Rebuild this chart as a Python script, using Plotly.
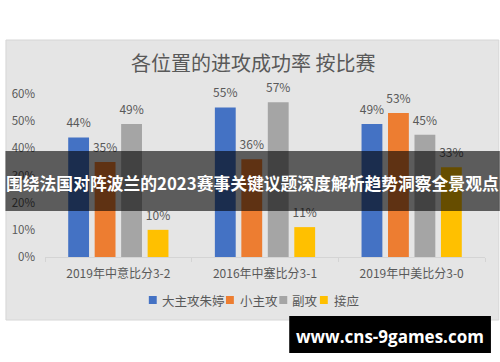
import plotly.graph_objects as go

categories = ["2019年中意比分3-2", "2016年中塞比分3-1", "2019年中美比分3-0"]
series_names = ["大主攻朱婷", "小主攻", "副攻", "接应"]
series_values = {
    "大主攻朱婷": [44, 55, 49],
    "小主攻": [35, 36, 53],
    "副攻": [49, 57, 45],
    "接应": [10, 11, 33],
}
colors = ["#4472C4", "#ED7D31", "#A5A5A5", "#FFC000"]
tick_vals = [0, 10, 20, 30, 40, 50, 60]
tick_text = ["0%", "10%", "20%", "30%", "40%", "50%", "60%"]

title_text = "各位置的进攻成功率 按比赛"
banner_text = "围绕法国对阵波兰的2023赛事关键议题深度解析趋势洞察全景观点"
watermark_text = "www.cns-9games.com"

# layout (pixel positions in the 500x362 window)
W, H = 500, 362
L, R, T, B = 40, 15, 94, 105
PW, PH = W - L - R, H - T - B
legend_square_x = [145, 223, 277, 318]
legend_text_x = [157, 236, 289, 331]
LEGEND_Y = 300
GAP = 0.278


def px(x):
    return (x - L) / PW


def py(y):
    return (H - B - y) / PH


FONT = "Noto Sans CJK SC, Noto Sans, sans-serif"
GRAY = "#595959"

fig = go.Figure()
for name, col in zip(series_names, colors):
    vals = series_values[name]
    fig.add_trace(go.Bar(
        x=categories, y=vals, name=name,
        marker=dict(color=col, line=dict(width=0)),
        showlegend=False, hoverinfo="skip",
    ))
for name in series_names:
    vals = series_values[name]
    fig.add_trace(go.Scatter(
        x=categories, y=vals, name=name + " label", mode="markers+text",
        marker=dict(size=10, opacity=0),
        text=[f"{v}%" for v in vals], textposition="top center",
        textfont=dict(family=FONT, size=12, color=GRAY),
        cliponaxis=False, showlegend=False, hoverinfo="skip",
    ))

shapes = [
    dict(type="rect", xref="paper", yref="paper", layer="below",
         x0=px(0.5), x1=px(499), y0=py(320), y1=py(40),
         fillcolor="#e5e5e5", line=dict(color="#d6d6d6", width=1)),
]
annotations = [
    dict(text=title_text, xref="paper", yref="paper", x=px(250), y=py(62),
         xanchor="center", yanchor="middle", showarrow=False,
         font=dict(family=FONT, size=20, color=GRAY)),
]
for name, col, sx, tx in zip(series_names, colors, legend_square_x, legend_text_x):
    shapes.append(dict(type="rect", xref="paper", yref="paper", layer="above",
                       x0=px(sx), x1=px(sx + 8), y0=py(LEGEND_Y + 4), y1=py(LEGEND_Y - 4),
                       fillcolor=col, line=dict(width=0)))
    annotations.append(dict(text=name, xref="paper", yref="paper", x=px(tx - 1), y=py(LEGEND_Y),
                            xanchor="left", yanchor="middle", showarrow=False,
                            font=dict(family=FONT, size=12.5, color=GRAY)))

shapes += [
    dict(type="rect", xref="paper", yref="paper", layer="above",
         x0=px(0), x1=px(500), y0=py(211), y1=py(151),
         fillcolor="rgba(0,0,0,0.6)", line=dict(width=0)),
    dict(type="rect", xref="paper", yref="paper", layer="above",
         x0=px(287), x1=px(491), y0=py(353), y1=py(316),
         fillcolor="black", line=dict(width=0)),
]
annotations += [
    dict(text="<b>" + banner_text + "</b>", xref="paper", yref="paper", x=px(250), y=py(183),
         xanchor="center", yanchor="middle", showarrow=False,
         font=dict(family=FONT, size=16.8, color="white")),
    dict(text="<b>" + watermark_text + "</b>", xref="paper", yref="paper", x=px(389), y=py(336),
         xanchor="center", yanchor="middle", showarrow=False,
         font=dict(family="Open Sans, Noto Sans, sans-serif", size=17, color="white")),
]

fig.update_layout(
    width=W, height=H,
    margin=dict(l=L, r=R, t=T, b=B),
    paper_bgcolor="white", plot_bgcolor="rgba(0,0,0,0)",
    barmode="group", bargap=GAP, bargroupgap=0.213,
    scattermode="group", scattergap=GAP,
    font=dict(family=FONT, color=GRAY),
    showlegend=False,
    xaxis=dict(showgrid=False, showline=True, linecolor="#d4d4d4", linewidth=1,
               ticks="outside", tickson="boundaries", ticklen=4, tickcolor="#d4d4d4",
               ticklabelstandoff=6,
               tickfont=dict(family=FONT, size=12, color=GRAY), fixedrange=True),
    yaxis=dict(range=[0, 60], tickvals=tick_vals, ticktext=tick_text, showgrid=False,
               zeroline=False, showline=False, ticks="", ticklabelstandoff=9,
               tickfont=dict(family=FONT, size=11.5, color=GRAY), fixedrange=True),
    shapes=shapes,
    annotations=annotations,
)

fig.write_html("out.html", config={"displayModeBar": False},
               post_script="document.body.style.margin='0';document.body.style.overflow='hidden';")
